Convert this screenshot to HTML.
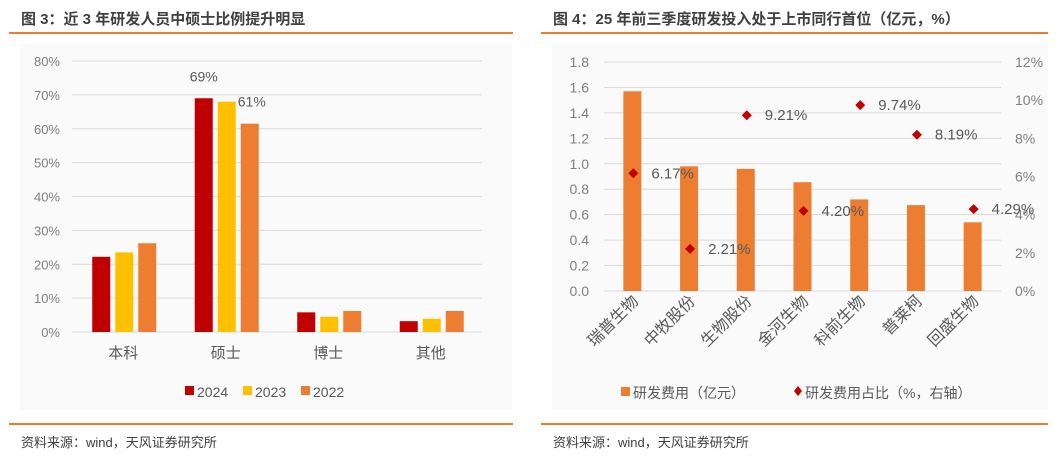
<!DOCTYPE html>
<html><head><meta charset="utf-8"><style>
body{margin:0;background:#fff;width:1056px;height:458px;overflow:hidden;font-family:"Liberation Sans","Noto Sans CJK SC",sans-serif}
svg text{font-family:"Liberation Sans","Noto Sans CJK SC",sans-serif}
</style></head><body>
<svg id="s" width="1056" height="458">
<rect x="20" y="44" width="492" height="366" fill="#fafafa"/>
<rect x="552" y="44" width="496" height="366" fill="#fafafa"/>
<text x="21" y="24" font-size="15" font-weight="bold" fill="#404040">图 3：近 3 年研发人员中硕士比例提升明显</text>
<text x="553" y="24" font-size="15" font-weight="bold" fill="#404040">图 4：25 年前三季度研发投入处于上市同行首位（亿元，%）</text>
<rect x="9" y="32" width="504" height="2" fill="#ed7d31"/>
<rect x="541" y="32" width="507" height="2" fill="#ed7d31"/>
<rect x="9" y="423" width="504" height="2" fill="#ed7d31"/>
<rect x="541" y="423" width="507" height="2" fill="#ed7d31"/>
<text x="21" y="447" font-size="13" fill="#404040">资料来源：wind，天风证券研究所</text>
<text x="553" y="447" font-size="13" fill="#404040">资料来源：wind，天风证券研究所</text>
<g id="L"></g><g id="R"></g>
</svg>
<script>
const leftCats=["本科","硕士","博士","其他"];
const leftSeries=["2024","2023","2022"];
const v2024=[22.2,69,5.8,3.2];
const v2023=[23.5,68,4.5,3.9];
const v2022=[26.2,61.5,6.2,6.2];
const leftTicks=[0,10,20,30,40,50,60,70,80];
const rightCats=["瑞普生物","中牧股份","生物股份","金河生物","科前生物","普莱柯","回盛生物"];
const rdCost=[1.57,0.98,0.96,0.855,0.72,0.675,0.54];
const rdPct=[6.17,2.21,9.21,4.20,9.74,8.19,4.29];
const rightTicksL=[0,0.2,0.4,0.6,0.8,1.0,1.2,1.4,1.6,1.8];
const rightTicksR=[0,2,4,6,8,10,12];

const NS="http://www.w3.org/2000/svg";
function mk(p,t,a,txt){const e=document.createElementNS(NS,t);for(const k in a)e.setAttribute(k,a[k]);if(txt!=null)e.textContent=txt;p.appendChild(e);return e;}
const L=document.getElementById('L'),R=document.getElementById('R');
const lx0=72,lx1=482,ly0=332,ly1=61;
const ly=v=>ly0-(v/80)*(ly0-ly1);
const band=(lx1-lx0)/leftCats.length;
const lxc=i=>lx0+band*(i+0.5);
leftTicks.forEach(t=>{
 const g=mk(L,'line',{x1:lx0,x2:lx1,y1:ly(t),y2:ly(t),stroke:'#d9d9d9','stroke-width':1});
 
 const tx=mk(L,'text',{x:60,y:ly(t)+5,'text-anchor':'end','font-size':13,fill:'#7f7f7f'},t+'%');
 
});
const colors=['#c00000','#ffc000','#ed7d31'];
const series=[v2024,v2023,v2022];
series.forEach((s,j)=>{s.forEach((v,i)=>{
 const x=lxc(i)+(j-1)*23-8;
 const r=mk(L,'rect',{x:x,y:ly(v),width:18,height:ly0-ly(v),fill:colors[j]});
 
});});
const a1=mk(L,'text',{x:lxc(1)-22,y:ly(v2024[1])-17,'text-anchor':'middle','font-size':14,fill:'#595959'},Math.round(v2024[1])+'%');

const a2=mk(L,'text',{x:lxc(1)+12,y:ly(v2023[1])+5,'font-size':14,fill:'#595959'},Math.floor(v2022[1])+'%');

leftCats.forEach((c,i)=>{const t=mk(L,'text',{x:lxc(i),y:358,'text-anchor':'middle','font-size':15,fill:'#595959'},c);
 });
leftSeries.forEach((s,j)=>{const x=185+j*58;
 const r=mk(L,'rect',{x:x,y:386,width:9,height:9,fill:colors[j]});
 
 const t=mk(L,'text',{x:x+12,y:397,'font-size':14,fill:'#595959'},s);
 });
const rx0=604,rx1=1001,ry0=291,ry1=62;
const ryL=v=>ry0-(v/1.8)*(ry0-ry1);
const ryR=v=>ry0-(v/12)*(ry0-ry1);
const rb=(rx1-rx0)/rightCats.length;
const rxc=i=>rx0+rb*(i+0.5);
rightTicksL.forEach(t=>{
 const g=mk(R,'line',{x1:rx0,x2:rx1,y1:ryL(t),y2:ryL(t),stroke:'#d9d9d9','stroke-width':1});
 
 const tx=mk(R,'text',{x:589,y:ryL(t)+5,'text-anchor':'end','font-size':14,fill:'#7f7f7f'},t.toFixed(1));
 
});
rightTicksR.forEach(t=>{const tx=mk(R,'text',{x:1015,y:ryR(t)+5,'font-size':14,fill:'#7f7f7f'},t+'%');
 });
rdCost.forEach((v,i)=>{const r=mk(R,'rect',{x:rxc(i)-9,y:ryL(v),width:18,height:ry0-ryL(v),fill:'#ed7d31'});
 });
rdPct.forEach((v,i)=>{const x=rxc(i)+1,y=ryR(v);
 const p=mk(R,'path',{d:`M${x} ${y-5}L${x+5} ${y}L${x} ${y+5}L${x-5} ${y}Z`,fill:'#c00000'});
 
 const t=mk(R,'text',{x:x+18,y:y+5,'font-size':15,fill:'#595959'},v.toFixed(2)+'%');
 });
rightCats.forEach((c,i)=>{const x=rxc(i)+7,y=302;
 const t=mk(R,'text',{x:x,y:y,'text-anchor':'end','font-size':16,fill:'#595959',transform:`rotate(-45 ${x} ${y})`},c);
 });
const s1=mk(R,'rect',{x:621,y:387,width:9,height:9,fill:'#ed7d31'});

const t1=mk(R,'text',{x:633,y:398,'font-size':14,fill:'#595959'},'研发费用（亿元）');

const s2=mk(R,'path',{d:'M798 386L802 391L798 396L794 391Z',fill:'#c00000'});

const t2=mk(R,'text',{x:805,y:398,'font-size':14,fill:'#595959'},'研发费用占比（%，右轴）');

</script>
</body></html>
